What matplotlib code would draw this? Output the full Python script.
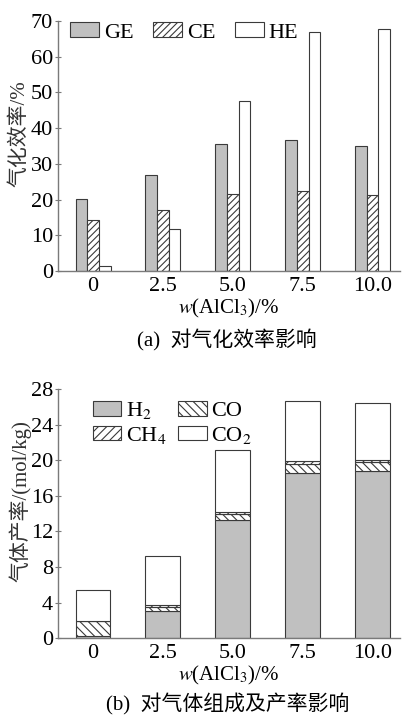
import matplotlib
matplotlib.use("Agg")
import matplotlib.pyplot as plt
import numpy as np

plt.rcParams['font.family'] = ['Liberation Serif', 'Noto Sans CJK SC']
plt.rcParams['mathtext.fontset'] = 'stix'
plt.rcParams['hatch.linewidth'] = 0.8

GREY = '#c0c0c0'
EDGE = '#3a3a3a'
SPINE = '#7a7a7a'
FS = 16

# data
x_labels = ['0', '2.5', '5.0', '7.5', '10.0']
ge = [20.1, 26.8, 35.5, 36.6, 34.9]
ce = [14.3, 17.1, 21.6, 22.3, 21.2]
he = [1.5, 11.7, 47.5, 67.0, 67.7]

h2 = [0.3, 3.1, 13.3, 18.6, 18.75]
co = [1.6, 0.4, 0.65, 1.0, 1.0]
ch4 = [0.05, 0.2, 0.22, 0.3, 0.32]
co2 = [3.5, 5.6, 6.98, 6.75, 6.36]

fig = plt.figure(figsize=(4.06, 7.15), dpi=100)


def style_axes(ax):
    for s in ['top', 'right']:
        ax.spines[s].set_visible(False)
    for s in ['left', 'bottom']:
        ax.spines[s].set_color(SPINE)
        ax.spines[s].set_linewidth(1.0)
    ax.tick_params(axis='y', direction='inout', length=5, width=0.8,
                   color=SPINE, labelsize=FS, pad=1)
    ax.tick_params(axis='x', length=0, labelsize=FS, pad=4)


'''(a) gasification efficiency'''
ax1 = fig.add_axes([0.143, 0.621, 0.842, 0.3495])
x = np.arange(len(x_labels))
w = 0.167
ax1.bar(x - w, ge, w, color=GREY, edgecolor=EDGE, linewidth=0.8, label='GE')
ax1.bar(x, ce, w, color='white', edgecolor=EDGE, linewidth=0.8, hatch='/////', label='CE')
ax1.bar(x + w, he, w, color='white', edgecolor=EDGE, linewidth=0.8, label='HE')
ax1.set_xlim(-0.5, 4.39)
ax1.set_ylim(0, 70)
ax1.set_yticks(np.arange(0, 71, 10))
ax1.set_xticks(x)
ax1.set_xticklabels(x_labels)
style_axes(ax1)
ax1.set_xlabel(r'$w$(AlCl$_3$)/%', fontsize=15, labelpad=1)
ax1.set_ylabel('气化效率/%', fontsize=15, color='#333333', va='center')
ax1.yaxis.set_label_coords(-0.111, 0.55)
ax1.legend(loc='upper left', bbox_to_anchor=(0.01, 1.03), ncol=3, frameon=False,
           fontsize=FS, handlelength=1.3, handleheight=0.63,
           handletextpad=0.2, columnspacing=0.9, borderaxespad=0)
fig.text(0.56, 1 - 340 / 715, '(a)  对气化效率影响', ha='center', va='center', fontsize=15)

'''(b) gas composition and yield'''
ax2 = fig.add_axes([0.143, 0.1072, 0.842, 0.3488])
b = 0.5
bottom = np.zeros(len(x_labels))
r1 = ax2.bar(x, h2, b, bottom=bottom, color=GREY, edgecolor=EDGE, linewidth=0.8, label='H$_2$')
bottom += h2
r2 = ax2.bar(x, co, b, bottom=bottom, color='white', edgecolor=EDGE, linewidth=0.8, hatch='\\\\\\\\', label='CO')
bottom += co
r3 = ax2.bar(x, ch4, b, bottom=bottom, color='white', edgecolor=EDGE, linewidth=0.8, hatch='////', label='CH$_4$')
bottom += ch4
r4 = ax2.bar(x, co2, b, bottom=bottom, color='white', edgecolor=EDGE, linewidth=0.8, label='CO$_2$')
ax2.set_xlim(-0.5, 4.39)
ax2.set_ylim(0, 28)
ax2.set_yticks(np.arange(0, 29, 4))
ax2.set_xticks(x)
ax2.set_xticklabels(x_labels)
style_axes(ax2)
ax2.set_xlabel(r'$w$(AlCl$_3$)/%', fontsize=15, labelpad=0.5)
ax2.set_ylabel('气体产率/(mol/kg)', fontsize=15, color='#333333', va='center')
ax2.yaxis.set_label_coords(-0.111, 0.55)
ax2.legend([r1, r3, r2, r4], ['H$_2$', 'CH$_4$', 'CO', 'CO$_2$'],
           loc='upper left', bbox_to_anchor=(0.075, 0.99), ncol=2, frameon=False,
           fontsize=FS, handlelength=1.3, handleheight=0.63,
           handletextpad=0.2, columnspacing=0.5, labelspacing=0.15, borderaxespad=0)
fig.text(0.56, 1 - 704 / 715, '(b)  对气体组成及产率影响', ha='center', va='center', fontsize=15)

fig.savefig('out.png', dpi=100)
